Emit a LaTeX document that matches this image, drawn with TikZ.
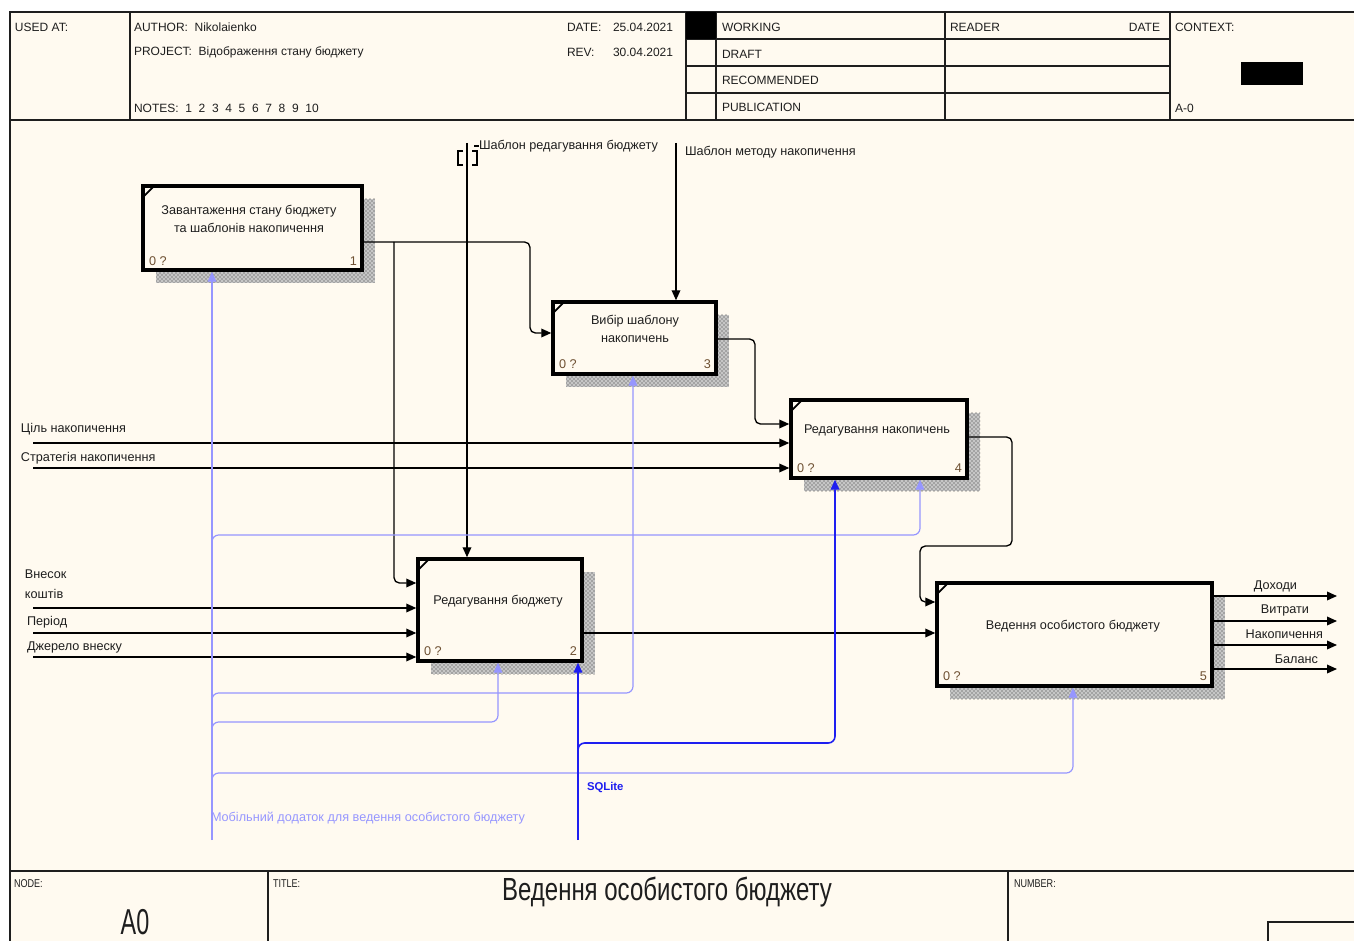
\documentclass[tikz,border=0pt]{standalone}
\usepackage{graphicx}
\usepackage{fontspec}
\setmainfont{Liberation Sans}
\usetikzlibrary{arrows.meta,patterns,calc}
\definecolor{paper}{RGB}{255,250,240}
\definecolor{mech}{RGB}{150,150,255}
\definecolor{sql}{RGB}{30,30,240}
\definecolor{ink}{RGB}{30,30,30}
\definecolor{numc}{RGB}{110,80,50}
\begin{document}
\begin{tikzpicture}[x=0.75pt,y=-0.75pt,
 every node/.style={inner sep=0pt, outer sep=0pt, text=ink},
 hdr/.style={anchor=west, font=\fontsize{9}{10}\selectfont},
 lbl/.style={anchor=west, font=\fontsize{9.5}{11}\selectfont},
 olbl/.style={anchor=east, font=\fontsize{9.5}{11}\selectfont},
 btxt/.style={align=center, font=\fontsize{9.5}{14}\selectfont},
 num/.style={font=\fontsize{9.5}{11}\selectfont, text=numc},
 box/.style={draw=black, line width=2.6pt, fill=paper, rectangle, outer sep=1.3pt},
 shade/.style={fill=gray!45, postaction={pattern=crosshatch dots, pattern color=gray!40!black}},
 conn/.style={draw=black, line width=1pt, rounded corners=4pt},
 arr/.style={-{Triangle[length=7.5pt,width=6.5pt]}},
 mechc/.style={draw=mech, line width=0.9pt, rounded corners=5pt},
 sqlc/.style={draw=sql, line width=1.2pt, rounded corners=5pt},
 fr/.style={draw=ink, line width=1.1pt},
 corner/.style={draw=black, line width=1.3pt},
]
\useasboundingbox (0,0) rectangle (1354,941);
\fill[white] (0,0) rectangle (1354,941);
\fill[paper] (10,12) rectangle (1354,941);

% ---------- frame ----------
\draw[fr] (1354,12) -- (10,12) -- (10,941);
\draw[fr] (10,120) -- (1354,120);
\draw[fr] (10,871) -- (1354,871);
\foreach \xx in {130,686,716,945,1170} \draw[fr] (\xx,12) -- (\xx,120);
\foreach \yy in {39,66,93} \draw[fr] (686,\yy) -- (1170,\yy);
\fill[black] (686,12) rectangle (716,39);
\fill[black] (1241,62) rectangle (1303,85);
\draw[fr] (268,871) -- (268,941);
\draw[fr] (1008,871) -- (1008,941);
\draw[fr] (1268,941) -- (1268,922) -- (1360,922);

% ---------- header text ----------
\node[hdr] (usedat) at (15,27) {USED AT:};
\node[hdr] (author) at (134,27) {AUTHOR:\ \ Nikolaienko};
\node[hdr] (project) at (134,52) {PROJECT:\ \ Відображення стану бюджету};
\node[hdr] (notes) at (134,108) {NOTES:\ \ 1\ \ 2\ \ 3\ \ 4\ \ 5\ \ 6\ \ 7\ \ 8\ \ 9\ \ 10};
\node[hdr] (datek) at (567,27) {DATE:};
\node[hdr] (datev) at (613,27) {25.04.2021};
\node[hdr] (revk) at (567,52) {REV:};
\node[hdr] (revv) at (613,52) {30.04.2021};
\node[hdr] (working) at (722,27) {WORKING};
\node[hdr] (draft) at (722,54) {DRAFT};
\node[hdr] (recom) at (722,80) {RECOMMENDED};
\node[hdr] (publ) at (722,107) {PUBLICATION};
\node[hdr] (reader) at (950,27) {READER};
\node[hdr, anchor=east] (rdate) at (1160,27) {DATE};
\node[hdr] (context) at (1175,27) {CONTEXT:};
\node[hdr] (aminus) at (1175,108) {A-0};

% ---------- footer text ----------
\node[anchor=west] (nodek) at (14,884) {\scalebox{0.8}[1]{\fontsize{8.5}{9}\selectfont NODE:}};
\node[anchor=west] (titlek) at (273,884) {\scalebox{0.8}[1]{\fontsize{8.5}{9}\selectfont TITLE:}};
\node[anchor=west] (numberk) at (1014,884) {\scalebox{0.8}[1]{\fontsize{8.5}{9}\selectfont NUMBER:}};
\node (nodeid) at (135,922) {\scalebox{0.65}[1]{\fontsize{27}{29}\selectfont A0}};
\node (title) at (667,892) {\scalebox{0.75}[1]{\fontsize{24}{26}\selectfont Ведення особистого бюджету}};

% ---------- shadows ----------
\fill[shade] (156,199) rectangle (375,283);
\fill[shade] (566,315) rectangle (729,387);
\fill[shade] (804,413) rectangle (980,491);
\fill[shade] (431,572) rectangle (595,674);
\fill[shade] (950,596) rectangle (1225,699);

% ---------- boxes ----------
\node[box, minimum width=164.25pt, minimum height=63pt] (b1) at (252.5,228) {};
\node[box, minimum width=122.25pt, minimum height=54pt] (b3) at (634.5,338) {};
\node[box, minimum width=132pt, minimum height=58.5pt] (b4) at (879,439) {};
\node[box, minimum width=123pt, minimum height=76.5pt] (b2) at (500,610) {};
\node[box, minimum width=206.25pt, minimum height=77.25pt] (b5) at (1074.5,634.5) {};

\foreach \b in {b1,b2,b3,b4,b5}{
  \draw[corner] ($(\b.north west)+(1.5,13)$) -- ($(\b.north west)+(13,1.5)$);
}

\node[btxt] (t1) at (249,219) {Завантаження стану бюджету\\ та шаблонів накопичення};
\node[btxt] (t3) at (635,329) {Вибір шаблону\\накопичень};
\node[btxt] (t4) at (877,430) {Редагування накопичень};
\node[btxt] (t2) at (498,601) {Редагування бюджету};
\node[btxt] (t5) at (1073,626) {Ведення особистого бюджету};

\node[num, anchor=west] (q1) at (149,261) {0 ?};
\node[num, anchor=east] (n1) at (357,261) {1};
\node[num, anchor=west] (q3) at (559,364) {0 ?};
\node[num, anchor=east] (n3) at (711,364) {3};
\node[num, anchor=west] (q4) at (797,468) {0 ?};
\node[num, anchor=east] (n4) at (962,468) {4};
\node[num, anchor=west] (q2) at (424,651) {0 ?};
\node[num, anchor=east] (n2) at (577,651) {2};
\node[num, anchor=west] (q5) at (943,676) {0 ?};
\node[num, anchor=east] (n5) at (1207,676) {5};

% ---------- black connectors ----------
\coordinate (j1) at (394,242);
\draw[conn,arr] (b1.east |- 0,242) -- (530,242) -- (530,333) -- (b3.west |- 0,333);
\draw[conn,arr] (j1) -- (394,583) -- (b2.west |- 0,583);

\coordinate (c2top) at (467,143);
\draw[conn,arr] (c2top) -- (c2top |- b2.north);
\draw[line width=0.9pt] (463,151) -- (458,151) -- (458,165) -- (463,165);
\draw[line width=0.9pt] (472,151) -- (477,151) -- (477,165) -- (472,165);
\draw[line width=0.9pt] (474,146) -- (479,146);
\node[lbl] (l2top) at (479,146) {Шаблон редагування бюджету};

\coordinate (c3top) at (676,143);
\draw[conn,arr] (c3top) -- (c3top |- b3.north);
\node[lbl] (l3top) at (685,152) {Шаблон методу накопичення};

\draw[conn,arr] (b3.east |- 0,339) -- (755,339) -- (755,424) -- (b4.west |- 0,424);

\coordinate (s1) at (33,443);
\coordinate (s2) at (33,468);
\draw[conn,arr] (s1) -- (s1 -| b4.west);
\draw[conn,arr] (s2) -- (s2 -| b4.west);
\node[lbl] (ls1) at (21,429) {Ціль накопичення};
\node[lbl] (ls2) at (21,458) {Стратегія накопичення};

\draw[conn,arr] (b4.east |- 0,437) -- (1012,437) -- (1012,546) -- (920,546) -- (920,602) -- (b5.west |- 0,602);

\coordinate (s3) at (33,608);
\coordinate (s4) at (33,633);
\coordinate (s5) at (33,657);
\draw[conn,arr] (s3) -- (s3 -| b2.west);
\draw[conn,arr] (s4) -- (s4 -| b2.west);
\draw[conn,arr] (s5) -- (s5 -| b2.west);
\node[lbl, align=left, font=\fontsize{9.5}{15}\selectfont] (ls3) at (25,584) {Внесок\\коштів};
\node[lbl] (ls4) at (27,622) {Період};
\node[lbl] (ls5) at (27,647) {Джерело внеску};

\draw[conn,arr] (b2.east |- 0,633) -- (b5.west |- 0,633);

\coordinate (o1) at (1337,596);
\coordinate (o2) at (1337,621);
\coordinate (o3) at (1337,645);
\coordinate (o4) at (1337,669);
\draw[conn,arr] (o1 -| b5.east) -- (o1);
\draw[conn,arr] (o2 -| b5.east) -- (o2);
\draw[conn,arr] (o3 -| b5.east) -- (o3);
\draw[conn,arr] (o4 -| b5.east) -- (o4);
\node[olbl] (lo1) at (1297,586) {Доходи};
\node[olbl] (lo2) at (1309,610) {Витрати};
\node[olbl] (lo3) at (1323,634) {Накопичення};
\node[olbl] (lo4) at (1318,659) {Баланс};

% ---------- mechanisms ----------
\coordinate (m0) at (212,840);
\draw[mechc,arr] (m0) -- (m0 |- b1.south);
\draw[mechc,arr] (212,545) -- (212,535) -- (920,535) -- (920,535 |- b4.south);
\draw[mechc,arr] (212,703) -- (212,693) -- (633,693) -- (633,693 |- b3.south);
\draw[mechc,arr] (212,732) -- (212,722) -- (498,722) -- (498,722 |- b2.south);
\draw[mechc,arr] (212,783) -- (212,773) -- (1073,773) -- (1073,773 |- b5.south);
\node[lbl, text=mech] (lm) at (211,818) {Мобільний додаток для ведення особистого бюджету};

\coordinate (q0) at (578,840);
\draw[sqlc,arr] (q0) -- (q0 |- b2.south);
\draw[sqlc,arr] (578,753) -- (578,743) -- (835,743) -- (835,743 |- b4.south);
\node[lbl, text=sql, font=\bfseries\fontsize{8.5}{10}\selectfont] (lq) at (587,788) {SQLite};
\end{tikzpicture}
\end{document}
